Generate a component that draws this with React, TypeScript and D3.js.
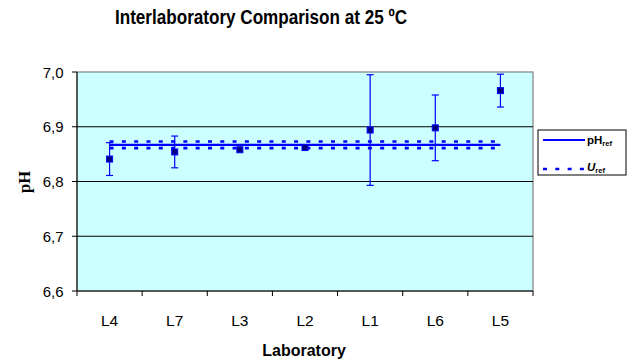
import React from "react";
import * as d3 from "d3";

const labs = ["L4", "L7", "L3", "L2", "L1", "L6", "L5"];
const phValues = [6.841, 6.854, 6.858, 6.862, 6.894, 6.898, 6.966];
const uncertainties = [0.030, 0.029, 0.0, 0.0, 0.101, 0.060, 0.030];
const yTicks = [6.6, 6.7, 6.8, 6.9, 7.0];
const pHref = 6.867;
const Uref = 0.006;

const W = 632, H = 364;
const left = 77, right = 533, top = 72, bottom = 291;

export default function App() {
  const x = d3.scaleBand().domain(labs).range([left, right]);
  const y = d3.scaleLinear().domain([6.6, 7.0]).range([bottom, top]);
  const cx = (l: string) => (x(l) as number) + x.bandwidth() / 2;
  const x0 = cx(labs[0]);
  const x1 = cx(labs[labs.length - 1]);
  const font = "Liberation Sans, Arial, sans-serif";
  const bounds = [...labs.map((l) => x(l) as number), right];

  return (
    <svg width={W} height={H} style={{ position: "absolute", left: 0, top: 0 }}>
      <rect x={0} y={0} width={W} height={H} fill="#fff" />
      <text x={261} y={23.5} textAnchor="middle" fontFamily={font} fontWeight="bold" fontSize={20}
        textLength={292} lengthAdjust="spacingAndGlyphs">
        Interlaboratory Comparison at 25 ºC
      </text>
      <rect x={left} y={top} width={right - left} height={bottom - top} fill="#CCFFFF" stroke="#808080" strokeWidth={1.2} />
      {yTicks.slice(1, -1).map((t) => (
        <line key={t} x1={left} x2={right} y1={y(t)} y2={y(t)} stroke="#000" strokeWidth={1} />
      ))}
      <line x1={left} x2={left} y1={top} y2={bottom} stroke="#000" />
      <line x1={left} x2={right} y1={bottom} y2={bottom} stroke="#000" />
      {yTicks.map((t) => (
        <g key={t}>
          <line x1={left - 5} x2={left} y1={y(t)} y2={y(t)} stroke="#000" />
          <text x={63.5} y={y(t) + 5.5} textAnchor="end" fontFamily={font} fontSize={15}>
            {d3.format(".1f")(t).replace(".", ",")}
          </text>
        </g>
      ))}
      {bounds.map((b, i) => (
        <line key={i} x1={b} x2={b} y1={bottom} y2={bottom + 5} stroke="#000" />
      ))}
      {labs.map((l) => (
        <text key={l} x={cx(l)} y={325.5} textAnchor="middle" fontFamily={font} fontSize={15.5}>
          {l}
        </text>
      ))}
      <text x={304} y={356} textAnchor="middle" fontFamily={font} fontWeight="bold" fontSize={16}>
        Laboratory
      </text>
      <text transform={`translate(30,182) rotate(-90)`} textAnchor="middle" fontFamily="Liberation Serif, Times New Roman, serif" fontWeight="bold" fontSize={16.5}>
        pH
      </text>
      <line x1={x0} x2={x1} y1={y(pHref)} y2={y(pHref)} stroke="#0000FF" strokeWidth={2.2} />
      <line x1={x0} x2={x1} y1={y(pHref + Uref)} y2={y(pHref + Uref)} stroke="#0000FF" strokeWidth={2.6} strokeDasharray="4 8.3" />
      <line x1={x0} x2={x1} y1={y(pHref - Uref)} y2={y(pHref - Uref)} stroke="#0000FF" strokeWidth={2.6} strokeDasharray="4 8.3" />
      {labs.map((l, i) => {
        const px = cx(l);
        const u = uncertainties[i];
        return (
          <g key={l}>
            {u > 0 && (
              <g stroke="#0000FF" strokeWidth={1.2}>
                <line x1={px} x2={px} y1={y(phValues[i] + u)} y2={y(phValues[i] - u)} />
                <line x1={px - 3.5} x2={px + 3.5} y1={y(phValues[i] + u)} y2={y(phValues[i] + u)} />
                <line x1={px - 3.5} x2={px + 3.5} y1={y(phValues[i] - u)} y2={y(phValues[i] - u)} />
              </g>
            )}
            <rect x={px - 3} y={y(phValues[i]) - 3} width={6} height={6} fill="#000080" stroke="#0000FF" strokeWidth={1} />
          </g>
        );
      })}
      <rect x={538} y={130} width={88} height={45} fill="#fff" stroke="#000" strokeWidth={1} />
      <line x1={543} x2={585} y1={140} y2={140} stroke="#0000FF" strokeWidth={2} />
      <text x={587} y={144} fontFamily={font} fontWeight="bold" fontSize={11.5}>
        pH<tspan fontSize={7.5} dy={2}>ref</tspan>
      </text>
      <line x1={543} x2={585} y1={169} y2={169} stroke="#0000FF" strokeWidth={2.6} strokeDasharray="4 8.3" />
      <text x={587} y={171} fontFamily={font} fontWeight="bold" fontSize={11.5}>
        <tspan fontStyle="italic">U</tspan><tspan fontSize={7.5} dy={2}>ref</tspan>
      </text>
    </svg>
  );
}
